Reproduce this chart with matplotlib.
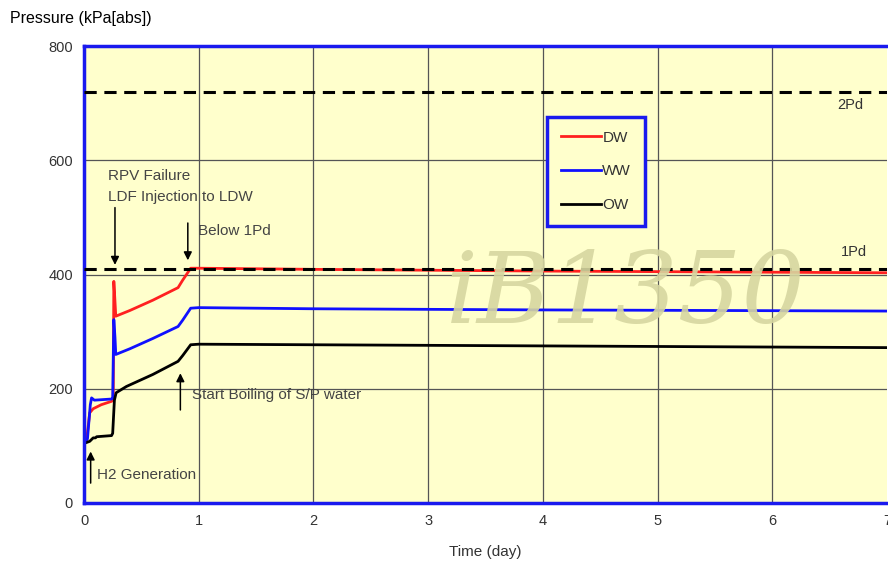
import numpy as np
import matplotlib.pyplot as plt
from matplotlib.lines import Line2D

plt.rcParams["font.family"] = ["Liberation Sans", "DejaVu Sans"]

# time (day) and pressure (kPa abs) for each well
dw_t = [0.01, 0.023, 0.05, 0.08, 0.15, 0.24, 0.255, 0.26, 0.268, 0.277, 0.4, 0.6, 0.82, 0.86, 0.93, 1.0, 2.0, 4.0, 7.0]
dw_p = [108, 111, 158, 165, 172, 178, 180, 388, 360, 327, 337, 355, 377, 390, 411, 411, 409, 406, 403]

ww_t = [0.01, 0.03, 0.055, 0.066, 0.09, 0.24, 0.25, 0.26, 0.27, 0.277, 0.4, 0.6, 0.82, 0.86, 0.93, 1.0, 2.0, 4.0, 7.0]
ww_p = [108, 112, 172, 184, 180, 182, 183, 321, 290, 260, 270, 288, 309, 320, 341, 342, 340, 338, 336]

ow_t = [0.01, 0.05, 0.08, 0.1, 0.11, 0.24, 0.25, 0.265, 0.28, 0.37, 0.6, 0.82, 0.86, 0.93, 1.0, 2.0, 4.0, 7.0]
ow_p = [105, 108, 114, 114, 116, 118, 122, 180, 193, 204, 225, 248, 258, 277, 278, 277, 275, 272]

one_pd = 410
two_pd = 720

fig = plt.figure(figsize=(8.88, 5.64), dpi=100)
ax = fig.add_axes([84 / 888, 1 - 503 / 564, 803 / 888, 457 / 564])
ax.set_facecolor("#ffffcc")

ax.set_xlim(0, 7)
ax.set_ylim(0, 800)
ax.set_xticks(range(0, 8))
ax.set_yticks(range(0, 801, 200))
ax.grid(True, color="#555555", linewidth=0.9)
ax.set_axisbelow(True)
ax.tick_params(length=0, labelsize=10.5, colors="#333333", pad=8)
# the last day line sits on the cropped right edge
ax.get_xgridlines()[-1].set_visible(False)

for side in ["left", "top", "bottom"]:
    ax.spines[side].set_color("#1a1aee")
    ax.spines[side].set_linewidth(2.5)
ax.spines["right"].set_visible(False)

ax.axhline(two_pd, color="black", linestyle=(0, (4, 2.5)), linewidth=2.2, zorder=3)
ax.axhline(one_pd, color="black", linestyle=(0, (4, 2.5)), linewidth=2.2, zorder=3)

ax.plot(dw_t, dw_p, color="#ff2020", linewidth=2, zorder=2)
ax.plot(ww_t, ww_p, color="#1010ff", linewidth=2, zorder=2)
ax.plot(ow_t, ow_p, color="black", linewidth=2, zorder=2)

ax.text(6.57, 690, "2Pd", fontsize=10.5, color="#333333")
ax.text(6.6, 432, "1Pd", fontsize=10.5, color="#333333")

txt = dict(fontsize=11, color="#444444")
arrow = dict(arrowstyle="-|>", color="black", linewidth=1.1, mutation_scale=12)
ax.text(0.21, 565, "RPV Failure", **txt)
ax.text(0.21, 528, "LDF Injection to LDW", **txt)
ax.annotate("", xy=(0.27, 412), xytext=(0.27, 522), arrowprops=arrow)
ax.text(0.99, 470, "Below 1Pd", **txt)
ax.annotate("", xy=(0.905, 420), xytext=(0.905, 495), arrowprops=arrow)
ax.text(0.94, 182, "Start Boiling of S/P water", **txt)
ax.annotate("", xy=(0.84, 232), xytext=(0.84, 158), arrowprops=arrow)
ax.text(0.11, 42, "H2 Generation", **txt)
ax.annotate("", xy=(0.058, 95), xytext=(0.058, 30), arrowprops=arrow)

ax.text(4.72, 362, "iB1350", fontsize=72, family=["DejaVu Serif"], style="italic",
        color="#d6d6a0", alpha=0.9, ha="center", va="center", zorder=5)

handles = [Line2D([], [], color=c, linewidth=2) for c in ["#ff2020", "#1010ff", "black"]]
leg = ax.legend(handles, ["DW", "WW", "OW"], loc="upper left", bbox_to_anchor=(0.577, 0.845),
                borderaxespad=0, fontsize=11, handlelength=2.6, handletextpad=0.1,
                labelspacing=1.3, borderpad=0.9, fancybox=False, framealpha=1,
                facecolor="#ffffcc")
leg.get_frame().set_edgecolor("#1a1aee")
leg.get_frame().set_linewidth(2.5)
for t in leg.get_texts():
    t.set_color("#333333")

fig.text(10 / 888, 1 - 18 / 564, "Pressure (kPa[abs])", fontsize=11.5, color="black", va="center")
ax.set_xlabel("Time (day)", fontsize=11, color="#333333", labelpad=12)

fig.savefig("out.png", dpi=100)
